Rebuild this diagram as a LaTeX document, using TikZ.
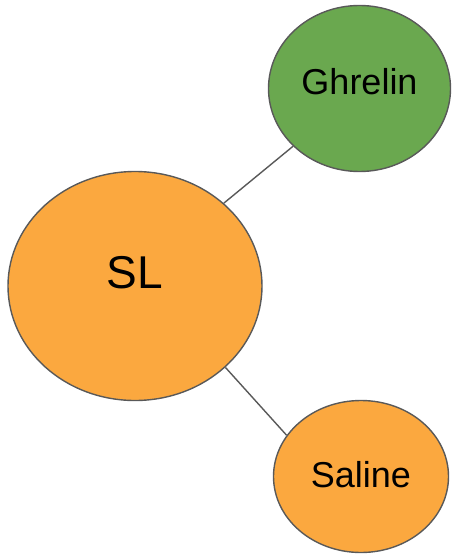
\documentclass[tikz,border=0pt]{standalone}
\usepackage{fontspec}
\setmainfont{Liberation Sans}
\definecolor{SunOrange}{HTML}{FBA83F}
\definecolor{LeafGreen}{HTML}{6AA84F}
\definecolor{EdgeGray}{HTML}{595959}
\usetikzlibrary{shapes.geometric}

\tikzset{
  blob/.style={ellipse, draw=EdgeGray, line width=1.4pt, inner sep=0pt},
  link/.style={draw=EdgeGray, line width=1.4pt}
}

\begin{document}
\begin{tikzpicture}[x=1pt,y=-1pt]
  \useasboundingbox (0,0) rectangle (452,556);
  \node[blob,fill=SunOrange,minimum width=254pt,minimum height=229pt,text depth=27pt,
    font=\fontsize{46}{50}\selectfont] (sl) at (135,286) {SL};
  \node[blob,fill=LeafGreen,minimum width=182pt,minimum height=166pt,text depth=15pt,
    font=\fontsize{36}{40}\selectfont] (ghrelin) at (359.5,88.5) {Ghrelin};
  \node[blob,fill=SunOrange,minimum width=175pt,minimum height=152pt,text depth=4pt,
    font=\fontsize{36}{40}\selectfont] (saline) at (361,476.5) {Saline};
  \draw[link] (sl.43) -- (ghrelin.-139);
  \draw[link] (sl.-42) -- (saline.151);
\end{tikzpicture}
\end{document}
